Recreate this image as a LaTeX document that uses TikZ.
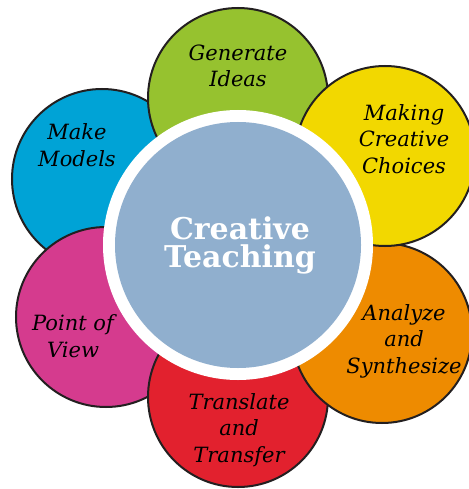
\documentclass[tikz,border=0pt]{standalone}
\usepackage{fontspec}
\setmainfont{DejaVu Serif}
\definecolor{cgreen}{HTML}{96C22F}
\definecolor{cyellow}{HTML}{F2D800}
\definecolor{corange}{HTML}{EE8B00}
\definecolor{cred}{HTML}{E2212E}
\definecolor{cmagenta}{HTML}{D53B8E}
\definecolor{cblue}{HTML}{00A3D6}
\definecolor{ccenter}{HTML}{90AFCE}
\definecolor{cline}{HTML}{231F20}
\begin{document}
\begin{tikzpicture}[x=1pt,y=-1pt,
  petal/.style={circle,draw=cline,line width=2pt,minimum size=180pt,inner sep=0pt},
  ptext/.style={align=center,anchor=base,inner sep=0pt,text=black,
    font=\fontsize{21}{26.5}\selectfont\itshape},
  ttext/.style={align=center,anchor=base,inner sep=0pt,text=white,
    font=\fontsize{30}{27.5}\selectfont\bfseries}]
\useasboundingbox (0,0) rectangle (468,489);
\node[petal,fill=cblue]    (models)    at (102,179) {};
\node[petal,fill=cmagenta] (view)      at (106,317) {};
\node[petal,fill=cred]     (translate) at (238,397) {};
\node[petal,fill=corange]  (analyze)   at (382,333) {};
\node[petal,fill=cgreen]   (generate)  at (238,98)  {};
\node[petal,fill=cyellow]  (making)    at (385,156) {};
\node[circle,fill=white,minimum size=270pt,inner sep=0pt] (ring) at (238,245) {};
\node[circle,fill=ccenter,minimum size=246pt,inner sep=0pt] (core) at (ring.center) {};
\node[ttext] (title) at (240,267) {Creative\\Teaching};
\node[ptext] (tgen)  at (238,87)  {Generate\\Ideas};
\node[ptext] (tmak)  at (404,173) {Making\\Creative\\Choices};
\node[ptext] (tmod)  at (77,166)  {Make\\Models};
\node[ptext] (tview) at (73,357)  {Point of\\View};
\node[ptext] (tana)  at (404,373) {Analyze\\and\\Synthesize};
\node[ptext] (ttra)  at (239,462) {Translate\\and\\Transfer};
\end{tikzpicture}
\end{document}
